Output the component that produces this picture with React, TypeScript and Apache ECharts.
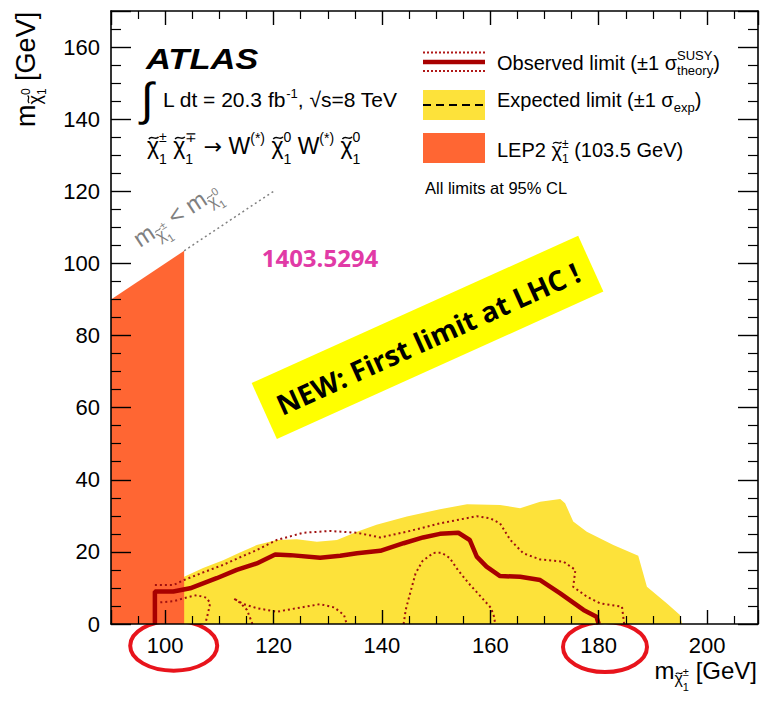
import React, { useEffect, useRef } from 'react';
import * as echarts from 'echarts';

// ---------------- data ----------------
const X_MIN = 90;
const X_MAX = 209.4;
const Y_MIN = 0;
const Y_MAX = 170;
const MAJOR = 20;
const X_TICK_LABELS = [100, 120, 140, 160, 180, 200];
const Y_TICK_LABELS = [0, 20, 40, 60, 80, 100, 120, 140, 160];

// LEP2 excluded region: top edge follows m(chi0) = m(chi+-) up to 103.5 GeV
const lep2Edge = [[90, 90], [103.5, 103.5]];

// expected limit +-1 sigma band (upper edge, filled down to 0)
const expectedBand = [
  [100.3, 0], [101.3, 6], [102.4, 10.5], [103.5, 13.1], [107, 15.5], [110.7, 17.7],
  [113.8, 19.8], [116.9, 21.9], [120.6, 23.3], [124.3, 23.5], [128, 22.8], [131.7, 23.3],
  [135.4, 25.6], [139, 27.5], [144.6, 29.8], [150.7, 31.8], [155.7, 33.2], [161.8, 33],
  [165.5, 32.1], [169.2, 33.9], [172.9, 34.7], [173.8, 33.5], [175.3, 28.4], [177.8, 25.6],
  [182.7, 21.9], [187.3, 18.9], [188.9, 10.3], [192.6, 5.7], [195, 2.5], [195.4, 0],
];

// observed limit
const observed = [
  [98.1, 0], [98.1, 9], [101.5, 9], [104.6, 9.9], [109.5, 12.7], [113.2, 15], [116.9, 16.8],
  [120.3, 19.3], [123.1, 19.1], [128.6, 18.4], [132.3, 18.9], [135.4, 19.6], [139.7, 20.3],
  [144, 22.4], [147.6, 24], [150.7, 25], [154.1, 25.3], [156.2, 23.3], [157.5, 18.7],
  [159.3, 15.9], [161.8, 13.3], [165.5, 13.1], [169.2, 12.2], [172.9, 8.5], [177.2, 3.9],
  [179.6, 2.0], [180, 0],
];

// observed +1 sigma(theory)
const obsUpper = [
  [98.1, 10.8], [101.5, 10.8], [103.5, 12.2], [107, 14.3], [110.7, 16.4], [113.8, 18.5],
  [116.9, 20.5], [120.6, 23.3], [125.5, 25.3], [130.4, 25.8], [135.4, 25.3], [139.7, 24],
  [144.6, 25.6], [150.7, 27.9], [157.5, 29.9], [160, 29.3], [161.8, 27.9], [163.7, 23.3],
  [166.1, 19.6], [169.2, 17.9], [173.5, 17.3], [175.7, 15], [175.3, 10.3], [177.8, 7.6],
  [180.3, 5.7], [184.3, 4.8], [184.7, 0],
];

// observed -1 sigma(theory): three separate contours
const obsLower1 = [[99.1, 6], [101.5, 6.3], [103.8, 7.3], [105.8, 8], [107.6, 7.3], [108.3, 5.8], [107.9, 3], [107.4, 0]];
const obsLower2 = [
  [116.1, 0], [115.1, 3.9], [113.8, 5.9], [112.6, 7.1], [114.5, 5.5], [116.9, 4.4], [120.6, 3.4],
  [124.3, 4.4], [128.6, 5.5], [131.2, 4.6], [133, 2.5], [133.5, 0],
];
const obsLower3 = [
  [144, 0], [144.4, 4], [145.2, 8.5], [146.2, 14], [147.5, 17.5], [149.5, 19.7], [151, 19.8],
  [152.5, 18.3], [154, 15], [156, 11.3], [158.3, 7.5], [160.1, 4.5], [160.7, 2], [160.9, 0],
];

// kinematic boundary m(chi+-) = m(chi0)
const kinematicLine = [[103.5, 103.5], [120, 120]];

// ---------------- styles ----------------
const W = 762;
const H = 701;
const FONT = 'Liberation Sans';
const ORANGE = '#ff6633';
const YELLOW = '#fde23a';
const DARKRED = '#a80000';
const CHI = '\u03C7';

type Piece = {
  t?: string; fs?: number; dy?: number; tilde?: boolean; family?: string;
  sup?: string; sub?: string; sfs?: number; supDy?: number; subDy?: number; dx?: number;
};

function makeRich(ctx: CanvasRenderingContext2D, pieces: Piece[], o: { fs: number; family: string; fill: string; weight?: string; style?: string }) {
  const children: any[] = [];
  let x = 0;
  const weight = o.weight || 'normal';
  const fstyle = o.style || 'normal';
  const meas = (t: string, fs: number, fam?: string) => {
    ctx.font = `${fstyle} ${weight} ${fs}px "${fam || o.family}"`;
    return ctx.measureText(t).width;
  };
  const add = (t: string, fs: number, xx: number, base: number, fam?: string) =>
    children.push({
      type: 'text', x: xx, y: base - 0.35 * fs, silent: true,
      style: { text: t, fontSize: fs, fontFamily: fam || o.family, fontWeight: weight, fontStyle: fstyle, fill: o.fill, align: 'left', verticalAlign: 'middle' },
    });
  for (const p of pieces) {
    x += p.dx || 0;
    if (p.t) {
      const fs = p.fs || o.fs;
      const base = p.dy || 0;
      add(p.t, fs, x, base, p.family);
      const wt = meas(p.t, fs, p.family);
      if (p.tilde) {
        // tilde accent drawn as a small wave above the glyph
        const cx = x + wt / 2 + fs * 0.03;
        const cy = base - fs * 0.7;
        const w = fs * 0.42;
        const a = fs * 0.045;
        children.push({
          type: 'bezierCurve', silent: true,
          shape: { x1: cx - w / 2, y1: cy + a, cpx1: cx - w / 6, cpy1: cy - 3.2 * a, cpx2: cx + w / 6, cpy2: cy + 3.2 * a, x2: cx + w / 2, y2: cy - a },
          style: { stroke: o.fill, lineWidth: Math.max(1.1, fs * 0.065), fill: 'none' },
        });
      }
      x += wt;
    }
    if (p.sup || p.sub) {
      const sfs = p.sfs || o.fs * 0.6;
      let adv = 0;
      if (p.sup) { add(p.sup, sfs, x, p.supDy ?? -o.fs * 0.45); adv = Math.max(adv, meas(p.sup, sfs)); }
      if (p.sub) { add(p.sub, sfs, x, p.subDy ?? o.fs * 0.25); adv = Math.max(adv, meas(p.sub, sfs)); }
      x += adv;
    }
  }
  return { children, width: x };
}

const fmt = (allowed: number[]) => (v: number) => {
  const r = Math.round(v);
  return Math.abs(v - r) < 1e-6 && allowed.includes(r) ? String(r) : '';
};

export default function App() {
  const ref = useRef<HTMLDivElement>(null);
  useEffect(() => {
    document.body.style.margin = '0';
    const el = ref.current!;
    const chart = echarts.init(el, undefined, { renderer: 'svg', width: W, height: H });
    const ctx = document.createElement('canvas').getContext('2d')!;

    const axisLine = { show: true, onZero: false, lineStyle: { color: '#000', width: 1.6 } };
    const xTick = { show: true, inside: true, length: 14, lineStyle: { color: '#000', width: 1.4 } };
    const xMinor = { show: true, splitNumber: 4, length: 8, lineStyle: { color: '#000', width: 1.2 } };
    const yTick = { show: true, inside: true, length: 20, lineStyle: { color: '#000', width: 1.4 } };
    const yMinor = { show: true, splitNumber: 4, length: 10, lineStyle: { color: '#000', width: 1.2 } };
    const labelStyle = { fontSize: 22, fontFamily: FONT, color: '#000' };

    const xBase = { type: 'value', min: X_MIN, max: X_MAX, minInterval: MAJOR, maxInterval: MAJOR, axisLine, axisTick: xTick, minorTick: xMinor, splitLine: { show: false }, z: 10 };
    const yBase = { type: 'value', min: Y_MIN, max: Y_MAX, minInterval: MAJOR, maxInterval: MAJOR, axisLine, axisTick: yTick, minorTick: yMinor, splitLine: { show: false }, z: 10 };

    const line = { type: 'line', symbol: 'none', showSymbol: false, silent: true, xAxisIndex: 0, yAxisIndex: 0, clip: true };

    // ---------- texts ----------
    const g: any[] = [];
    const place = (r: { children: any[] }, x: number, y: number, rotation = 0) => g.push({ type: 'group', x, y, rotation, children: r.children });

    // y axis title
    const yt = makeRich(ctx, [
      { t: 'm' }, { t: CHI, fs: 18, dy: 6, tilde: true }, { sup: '0', sub: '1', sfs: 12, supDy: -5, subDy: 11 }, { t: ' [GeV]' },
    ], { fs: 27, family: FONT, fill: '#000' });
    place(yt, 35, 127, Math.PI / 2);

    // x axis title (right aligned)
    const xt = makeRich(ctx, [
      { t: 'm' }, { t: CHI, fs: 16, dy: 6, tilde: true }, { sup: '\u00B1', sub: '1', sfs: 11, supDy: -3, subDy: 12 }, { t: ' [GeV]' },
    ], { fs: 24, family: FONT, fill: '#000' });
    place(xt, 757 - xt.width, 678.5);

    // ATLAS label
    g.push({ type: 'text', x: 146, y: 58.5, scaleX: 1.15, silent: true, style: { text: 'ATLAS', fontSize: 30, fontFamily: FONT, fontWeight: 'bold', fontStyle: 'italic', fill: '#000', align: 'left', verticalAlign: 'middle' } });

    // integral sign + luminosity
    g.push({ type: 'text', x: 141, y: 99, silent: true, style: { text: '\u222B', fontSize: 46, fontFamily: FONT, fill: '#000', align: 'left', verticalAlign: 'middle' } });
    const lumi = makeRich(ctx, [
      { t: 'L dt = 20.3 fb' }, { t: '-1', fs: 13, dy: -9 }, { t: ', \u221As=8 TeV' },
    ], { fs: 21, family: FONT, fill: '#000' });
    place(lumi, 163, 107);

    // process line
    const stk = (sup: string): Piece => ({ sup, sub: '1', sfs: 14, supDy: -12, subDy: 10 });
    const proc = makeRich(ctx, [
      { t: CHI, tilde: true }, stk('\u00B1'),
      { t: ' ' }, { t: CHI, tilde: true }, stk('\u2213'),
      { t: ' ' }, { t: '\u2192', family: 'DejaVu Sans', fs: 22 }, { t: ' W' }, { t: '(*)', fs: 14, dy: -11 },
      { t: ' ' }, { t: CHI, tilde: true }, stk('0'),
      { t: ' W' }, { t: '(*)', fs: 14, dy: -11 },
      { t: ' ' }, { t: CHI, tilde: true }, stk('0'),
    ], { fs: 23, family: FONT, fill: '#000' });
    place(proc, 147, 154);

    // kinematic boundary label
    const kin = makeRich(ctx, [
      { t: 'm' }, { t: CHI, fs: 16, dy: 6, tilde: true }, { sup: '\u00B1', sub: '1', sfs: 11, supDy: -3, subDy: 12 },
      { t: ' < m' }, { t: CHI, fs: 16, dy: 6, tilde: true }, { sup: '0', sub: '1', sfs: 11, supDy: -3, subDy: 12 },
    ], { fs: 24, family: FONT, fill: '#808080' });
    place(kin, 140, 248, 0.576);

    // legend
    g.push({ type: 'line', silent: true, shape: { x1: 423, y1: 52.5, x2: 485, y2: 52.5 }, style: { stroke: '#b01818', lineWidth: 2, lineDash: [2, 2] } });
    g.push({ type: 'line', silent: true, shape: { x1: 423, y1: 71, x2: 485, y2: 71 }, style: { stroke: '#b01818', lineWidth: 2, lineDash: [2, 2] } });
    g.push({ type: 'line', silent: true, shape: { x1: 423, y1: 62, x2: 485, y2: 62 }, style: { stroke: DARKRED, lineWidth: 4.5 } });
    g.push({ type: 'rect', silent: true, shape: { x: 423, y: 90, width: 62, height: 30 }, style: { fill: YELLOW } });
    g.push({ type: 'line', silent: true, shape: { x1: 423, y1: 105, x2: 485, y2: 105 }, style: { stroke: '#000', lineWidth: 2, lineDash: [8, 5] } });
    g.push({ type: 'rect', silent: true, shape: { x: 423, y: 133, width: 62, height: 30 }, style: { fill: ORANGE } });

    const l1 = makeRich(ctx, [
      { t: 'Observed limit (\u00B11 \u03C3' }, { sup: 'SUSY', sub: 'theory', sfs: 13, supDy: -10, subDy: 5 }, { t: ')' },
    ], { fs: 20, family: FONT, fill: '#000' });
    place(l1, 497, 70);
    const l2 = makeRich(ctx, [
      { t: 'Expected limit (\u00B11 \u03C3' }, { t: 'exp', fs: 13, dy: 5 }, { t: ')' },
    ], { fs: 20, family: FONT, fill: '#000' });
    place(l2, 497, 107.3);
    const l3 = makeRich(ctx, [
      { t: 'LEP2 ' }, { t: CHI, tilde: true }, { sup: '\u00B1', sub: '1', sfs: 12, supDy: -9, subDy: 6 }, { t: ' (103.5 GeV)' },
    ], { fs: 20, family: FONT, fill: '#000' });
    place(l3, 497, 156.7);
    const l4 = makeRich(ctx, [{ t: 'All limits at 95% CL' }], { fs: 16.5, family: FONT, fill: '#000' });
    place(l4, 425, 194);

    // annotations
    g.push({ type: 'text', x: 320, y: 257, silent: true, style: { text: '1403.5294', fontSize: 24, fontFamily: 'Open Sans', fontWeight: 'bold', fill: '#e13aa6', align: 'center', verticalAlign: 'middle' } });
    g.push({
      type: 'group', x: 427.5, y: 337.3, rotation: 0.424, silent: true,
      children: [
        { type: 'rect', shape: { x: -179.2, y: -30.6, width: 358.4, height: 61.3 }, style: { fill: '#ffff00' } },
        { type: 'text', x: 0, y: 1, style: { text: 'NEW: First limit at LHC !', fontSize: 28, fontFamily: 'Open Sans', fontWeight: 'bold', fill: '#000', align: 'center', verticalAlign: 'middle' } },
      ],
    });
    g.push({ type: 'ellipse', silent: true, shape: { cx: 173.7, cy: 645.7, rx: 43.5, ry: 25 }, style: { fill: 'none', stroke: '#e8141c', lineWidth: 4 } });
    g.push({ type: 'ellipse', silent: true, shape: { cx: 605, cy: 647, rx: 42, ry: 25 }, style: { fill: 'none', stroke: '#e8141c', lineWidth: 4 } });

    const option: any = {
      animation: false,
      backgroundColor: '#fff',
      grid: { left: 111, right: 4, top: 11, bottom: 77, containLabel: false },
      xAxis: [
        { ...xBase, position: 'bottom', axisLabel: { ...labelStyle, margin: 10, formatter: fmt(X_TICK_LABELS) } },
        { ...xBase, position: 'top', axisLabel: { show: false } },
      ],
      yAxis: [
        { ...yBase, position: 'left', axisLabel: { ...labelStyle, margin: 11, formatter: fmt(Y_TICK_LABELS) } },
        { ...yBase, position: 'right', axisLabel: { show: false } },
      ],
      series: [
        { ...line, name: 'Expected band', data: expectedBand, lineStyle: { width: 0, opacity: 0 }, areaStyle: { color: YELLOW, opacity: 1, origin: 'start' }, z: 1 },
        { ...line, name: 'LEP2', data: lep2Edge, lineStyle: { width: 0, opacity: 0 }, areaStyle: { color: ORANGE, opacity: 1, origin: 'start' }, z: 2 },
        { ...line, name: 'Kinematic', data: kinematicLine, lineStyle: { color: '#808080', width: 1.5, type: [2, 3] }, z: 3 },
        { ...line, name: 'Obs +1s', data: obsUpper, lineStyle: { color: '#a01010', width: 2, type: [2, 3] }, z: 4 },
        { ...line, name: 'Obs -1s a', data: obsLower1, lineStyle: { color: '#a01010', width: 2, type: [2, 3] }, z: 4 },
        { ...line, name: 'Obs -1s b', data: obsLower2, lineStyle: { color: '#a01010', width: 2, type: [2, 3] }, z: 4 },
        { ...line, name: 'Obs -1s c', data: obsLower3, lineStyle: { color: '#a01010', width: 2, type: [2, 3] }, z: 4 },
        { ...line, name: 'Observed', data: observed, lineStyle: { color: DARKRED, width: 4.5 }, z: 5 },
      ],
      graphic: { elements: g },
    };
    chart.setOption(option);
    return () => chart.dispose();
  }, []);
  return <div ref={ref} style={{ width: W, height: H }} />;
}
